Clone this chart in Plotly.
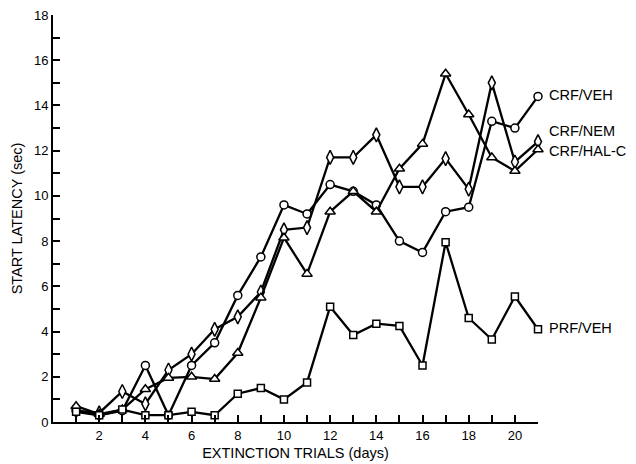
import plotly.graph_objects as go

days = list(range(1, 22))
crf_veh = [0.5, 0.3, 0.5, 2.5, 0.3, 2.5, 3.5, 5.6, 7.3, 9.6, 9.2, 10.5, 10.2, 9.6, 8.0, 7.5, 9.3, 9.5, 13.3, 13.0, 14.4]
crf_nem = [0.5, 0.4, 1.35, 0.8, 2.3, 3.0, 4.1, 4.65, 5.75, 8.5, 8.6, 11.7, 11.7, 12.7, 10.4, 10.4, 11.65, 10.3, 15.0, 11.5, 12.4]
crf_hal = [0.7, 0.35, 0.55, 1.45, 1.95, 2.0, 1.9, 3.05, 5.5, 8.15, 6.55, 9.3, 10.2, 9.3, 11.2, 12.3, 15.4, 13.6, 11.7, 11.1, 12.05]
prf_veh = [0.45, 0.3, 0.55, 0.3, 0.3, 0.45, 0.3, 1.25, 1.5, 1.0, 1.75, 5.1, 3.85, 4.35, 4.25, 2.5, 7.95, 4.6, 3.65, 5.55, 4.1]

series = [
    ("CRF/VEH", crf_veh, "circle", 8),
    ("CRF/NEM", crf_nem, "diamond-tall", 10),
    ("CRF/HAL-C", crf_hal, "triangle-up", 9),
    ("PRF/VEH", prf_veh, "square", 7),
]
label_y = {"CRF/VEH": 14.45, "CRF/NEM": 12.85, "CRF/HAL-C": 12.0, "PRF/VEH": 4.15}

font = "Liberation Sans, Arial, sans-serif"
fig = go.Figure()
for name, vals, sym, size in series:
    fig.add_trace(go.Scatter(
        x=days, y=vals, mode="lines+markers", name=name,
        line=dict(color="black", width=2.3),
        marker=dict(symbol=sym, size=size, color="white",
                    line=dict(color="black", width=1.5)),
        showlegend=False, cliponaxis=False,
    ))
    fig.add_annotation(x=21, y=label_y[name], text=name, xref="x", yref="y",
                       xanchor="left", yanchor="middle", xshift=9, showarrow=False,
                       font=dict(family=font, size=14.5, color="black"))

fig.update_layout(
    width=636, height=464,
    margin=dict(l=53, r=98, t=15, b=42),
    paper_bgcolor="white", plot_bgcolor="white",
    font=dict(family=font, size=13, color="black"),
)
fig.update_xaxes(
    range=[0, 21], tickmode="array", tickvals=list(range(1, 22)),
    ticktext=[str(d) if d % 2 == 0 and d <= 20 else "" for d in range(1, 22)],
    ticks="inside", ticklen=7, tickwidth=1.5, tickcolor="black",
    showline=True, linecolor="black", linewidth=2, showgrid=False, zeroline=False,
    automargin=False,
    title=dict(text="EXTINCTION TRIALS (days)", font=dict(size=14.5), standoff=6),
)
fig.update_yaxes(
    range=[0, 18], tickmode="array", tickvals=list(range(0, 19)),
    ticktext=[str(v) if v % 2 == 0 else "" for v in range(0, 19)],
    ticks="inside", ticklen=7, tickwidth=1.5, tickcolor="black",
    showline=True, linecolor="black", linewidth=2, showgrid=False, zeroline=False,
    automargin=False,
    title=dict(text="START LATENCY (sec)", font=dict(size=14.5), standoff=8),
)
fig.write_html("out.html")
